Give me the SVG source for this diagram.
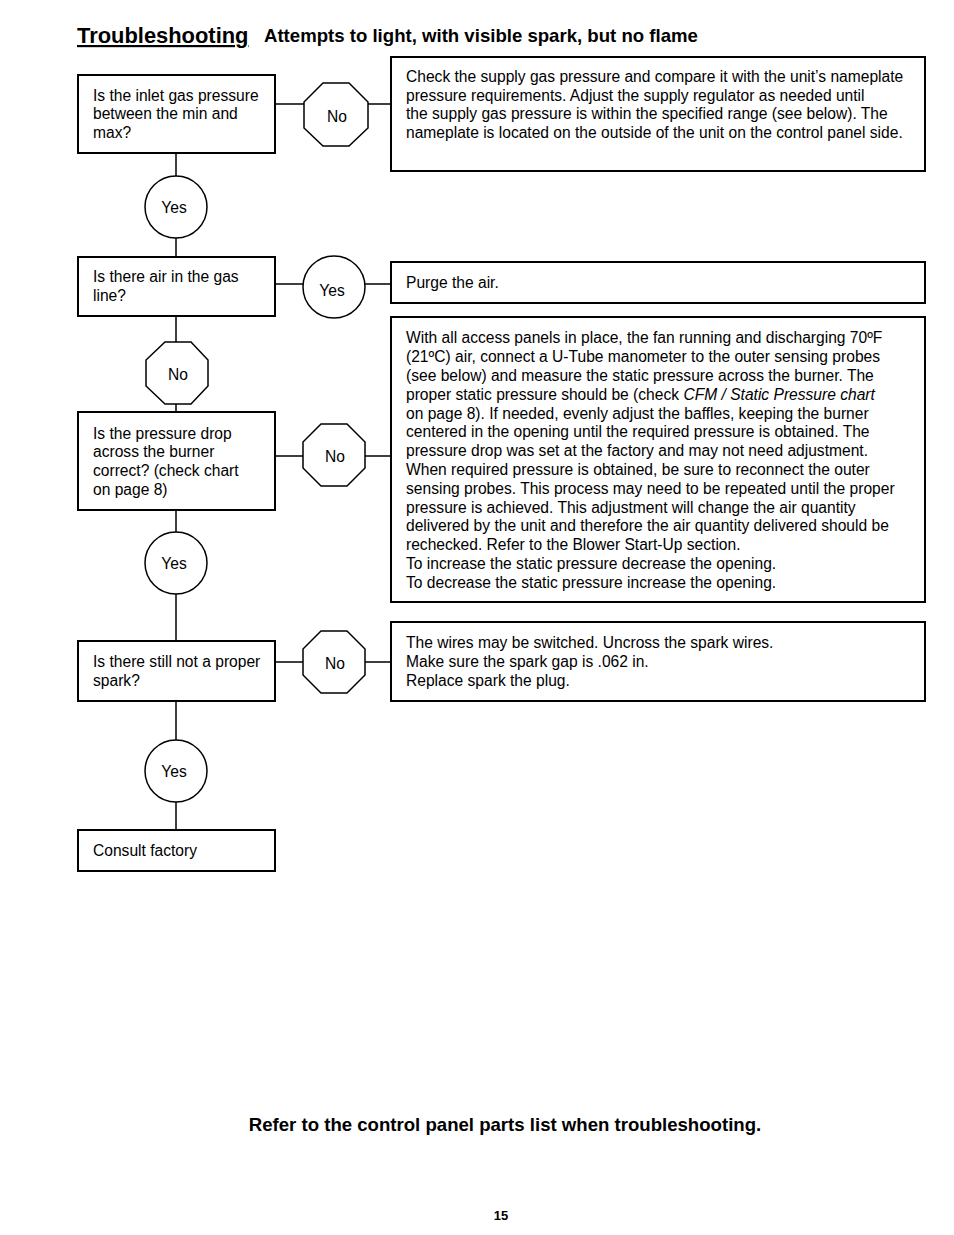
<svg xmlns="http://www.w3.org/2000/svg" width="954" height="1235" viewBox="0 0 954 1235">
<style>
text{font-family:"Liberation Sans",Arial,sans-serif;fill:#000}
.t{font-size:15.6px}
.b{fill:#fff;stroke:#000;stroke-width:2}
.o{fill:#fff;stroke:#000;stroke-width:1.5}
.c{stroke:#000;stroke-width:1.5;fill:none}
.l{font-size:15.6px;text-anchor:middle}
</style>
<rect width="954" height="1235" fill="#fff"/>
<text x="77" y="43" font-size="21.9" font-weight="bold" text-decoration="underline">Troubleshooting</text>
<text x="264" y="42" font-size="18.6" font-weight="bold">Attempts to light, with visible spark, but no flame</text>
<g id="connectors">
<path class="c" d="M176 153V257M176 316V412M176 510V641M176 701V830"/>
<path class="c" d="M275 104H304M368 104H391"/>
<path class="c" d="M275 284H303M365 284H391"/>
<path class="c" d="M275 456H303M365 456H391"/>
<path class="c" d="M275 662H303M365 662H391"/>
</g>
<g id="q1"><rect class="b" x="78" y="75" width="197" height="78"/>
<text class="t" x="93" y="101">Is the inlet gas pressure</text><text class="t" x="93" y="119">between the min and</text><text class="t" x="93" y="138">max?</text></g>
<g id="no1"><polygon class="o" points="323,83 349,83 368,102 368,128 349,146 323,146 304,128 304,102"/><text class="l" x="337" y="122">No</text></g>
<g id="a1"><rect class="b" x="391" y="57" width="534" height="114"/>
<text class="t" x="406" y="82">Check the supply gas pressure and compare it with the unit’s nameplate</text>
<text class="t" x="406" y="101">pressure requirements. Adjust the supply regulator as needed until</text>
<text class="t" x="406" y="119">the supply gas pressure is within the specified range (see below). The</text>
<text class="t" x="406" y="138">nameplate is located on the outside of the unit on the control panel side.</text></g>
<g id="yes1"><circle class="o" cx="176" cy="207" r="31"/><text class="l" x="174" y="213">Yes</text></g>
<g id="q2"><rect class="b" x="78" y="257" width="197" height="59"/>
<text class="t" x="93" y="282">Is there air in the gas</text><text class="t" x="93" y="301">line?</text></g>
<g id="yes2"><circle class="o" cx="334" cy="287" r="31"/><text class="l" x="332" y="296">Yes</text></g>
<g id="a2"><rect class="b" x="391" y="262" width="534" height="41"/>
<text class="t" x="406" y="288">Purge the air.</text></g>
<g id="no2"><polygon class="o" points="165,342 191,342 208,360 208,386 191,404 165,404 146,386 146,360"/><text class="l" x="178" y="380">No</text></g>
<g id="q3"><rect class="b" x="78" y="412" width="197" height="98"/>
<text class="t" x="93" y="439">Is the pressure drop</text><text class="t" x="93" y="457">across the burner</text><text class="t" x="93" y="476">correct? (check chart</text><text class="t" x="93" y="495">on page 8)</text></g>
<g id="no3"><polygon class="o" points="321,424 347,424 365,442 365,468 347,486 321,486 303,468 303,442"/><text class="l" x="335" y="462">No</text></g>
<g id="a3"><rect class="b" x="391" y="317" width="534" height="285"/>
<text class="t" x="406" y="343">With all access panels in place, the fan running and discharging 70ºF</text>
<text class="t" x="406" y="362">(21ºC) air, connect a U-Tube manometer to the outer sensing probes</text>
<text class="t" x="406" y="381">(see below) and measure the static pressure across the burner. The</text>
<text class="t" x="406" y="400">proper static pressure should be (check <tspan font-style="italic">CFM / Static Pressure chart</tspan></text>
<text class="t" x="406" y="419">on page 8). If needed, evenly adjust the baffles, keeping the burner</text>
<text class="t" x="406" y="437">centered in the opening until the required pressure is obtained. The</text>
<text class="t" x="406" y="456">pressure drop was set at the factory and may not need adjustment.</text>
<text class="t" x="406" y="475">When required pressure is obtained, be sure to reconnect the outer</text>
<text class="t" x="406" y="494">sensing probes. This process may need to be repeated until the proper</text>
<text class="t" x="406" y="513">pressure is achieved. This adjustment will change the air quantity</text>
<text class="t" x="406" y="531">delivered by the unit and therefore the air quantity delivered should be</text>
<text class="t" x="406" y="550">rechecked. Refer to the Blower Start-Up section.</text>
<text class="t" x="406" y="569">To increase the static pressure decrease the opening.</text>
<text class="t" x="406" y="588">To decrease the static pressure increase the opening.</text></g>
<g id="yes3"><circle class="o" cx="176" cy="563" r="31"/><text class="l" x="174" y="569">Yes</text></g>
<g id="q4"><rect class="b" x="78" y="641" width="197" height="60"/>
<text class="t" x="93" y="667">Is there still not a proper</text><text class="t" x="93" y="686">spark?</text></g>
<g id="no4"><polygon class="o" points="321,631 347,631 365,649 365,675 347,693 321,693 303,675 303,649"/><text class="l" x="335" y="669">No</text></g>
<g id="a4"><rect class="b" x="391" y="622" width="534" height="79"/>
<text class="t" x="406" y="648">The wires may be switched. Uncross the spark wires.</text>
<text class="t" x="406" y="667">Make sure the spark gap is .062 in.</text>
<text class="t" x="406" y="686">Replace spark the plug.</text></g>
<g id="yes4"><circle class="o" cx="176" cy="771" r="31"/><text class="l" x="174" y="777">Yes</text></g>
<g id="end"><rect class="b" x="78" y="830" width="197" height="41"/>
<text class="t" x="93" y="856">Consult factory</text></g>
<text x="505" y="1131" font-size="18.6" font-weight="bold" text-anchor="middle">Refer to the control panel parts list when troubleshooting.</text>
<text x="501" y="1220" font-size="13" font-weight="bold" text-anchor="middle">15</text>
</svg>
